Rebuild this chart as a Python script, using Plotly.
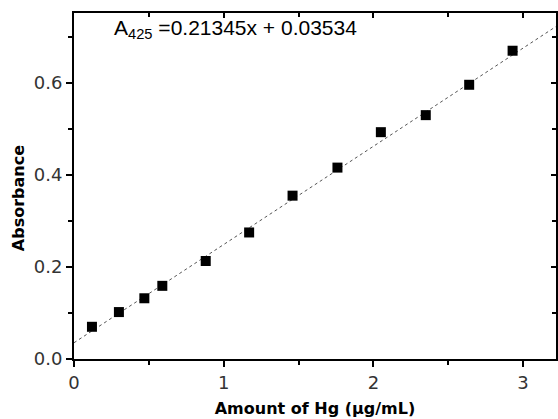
import plotly.graph_objects as go

hg_amount = [0.12, 0.30, 0.47, 0.59, 0.88, 1.17, 1.46, 1.76, 2.05, 2.35, 2.64, 2.93]
absorbance = [0.070, 0.102, 0.132, 0.159, 0.213, 0.275, 0.355, 0.416, 0.493, 0.530, 0.596, 0.670]
slope = 0.21345
intercept = 0.03534
x_range = [0, 3.22]
y_range = [0, 0.752]
fit_x = [0.0, 3.22]
fit_y = [slope * v + intercept for v in fit_x]

tick_font = dict(family="DejaVu Sans", size=18, color="#333333")
title_font = dict(family="DejaVu Sans", size=16, color="black")

fig = go.Figure()
fig.add_trace(go.Scatter(x=fit_x, y=fit_y, mode="lines",
                         line=dict(color="#555555", width=1, dash="dot"),
                         showlegend=False, hoverinfo="skip"))
fig.add_trace(go.Scatter(x=hg_amount, y=absorbance, mode="markers",
                         marker=dict(symbol="square", size=10, color="black"),
                         showlegend=False))

common = dict(showline=True, linecolor="black", linewidth=2, showgrid=False, zeroline=False,
              tickcolor="black", tickwidth=1.5)

fig.update_layout(
    xaxis=dict(range=x_range, tickvals=[0, 1, 2, 3], ticktext=["0", "1", "2", "3"],
               ticks="outside", ticklen=6, tickfont=tick_font,
               minor=dict(dtick=0.5, ticks="outside", ticklen=4, tickcolor="black", tickwidth=1.5),
               title=dict(text="<b>Amount of Hg (μg/mL)</b>", standoff=11, font=title_font),
               **common),
    yaxis=dict(range=y_range, tickvals=[0.0, 0.2, 0.4, 0.6], ticktext=["0.0", "0.2", "0.4", "0.6"],
               ticks="outside", ticklen=6, tickfont=tick_font,
               minor=dict(dtick=0.1, ticks="outside", ticklen=4, tickcolor="black", tickwidth=1.5),
               **common),
    xaxis2=dict(range=x_range, overlaying="x", side="top", anchor="y", tickvals=[0, 1, 2, 3],
                showticklabels=False, ticks="inside", ticklen=5,
                minor=dict(dtick=0.5, ticks="inside", ticklen=4, tickcolor="black", tickwidth=1.5),
                **common),
    yaxis2=dict(range=y_range, overlaying="y", side="right", anchor="x", tickvals=[0.0, 0.2, 0.4, 0.6],
                showticklabels=False, ticks="inside", ticklen=5,
                minor=dict(dtick=0.1, ticks="inside", ticklen=4, tickcolor="black", tickwidth=1.5),
                **common),
)
# invisible trace to anchor the mirrored axes
fig.add_trace(go.Scatter(x=[None], y=[None], xaxis="x2", yaxis="y2", showlegend=False, hoverinfo="skip"))

fig.add_annotation(x=-0.116, y=0.465, xref="paper", yref="paper", xanchor="center", yanchor="middle",
                   text="<b>Absorbance</b>", textangle=-90, showarrow=False, font=title_font)

fig.add_annotation(x=0.079, y=0.955, xref="paper", yref="paper", xanchor="left", yanchor="middle",
                   text="A<sub>425</sub> =0.21345x + 0.03534", showarrow=False,
                   font=dict(family="Liberation Sans, Arial", size=21, color="black"))

fig.update_layout(width=558, height=419, margin=dict(l=74, r=2, t=13, b=60),
                  plot_bgcolor="white", paper_bgcolor="white")

fig.write_html("out.html", config={"displayModeBar": False},
               post_script="document.body.style.margin='0px';")
